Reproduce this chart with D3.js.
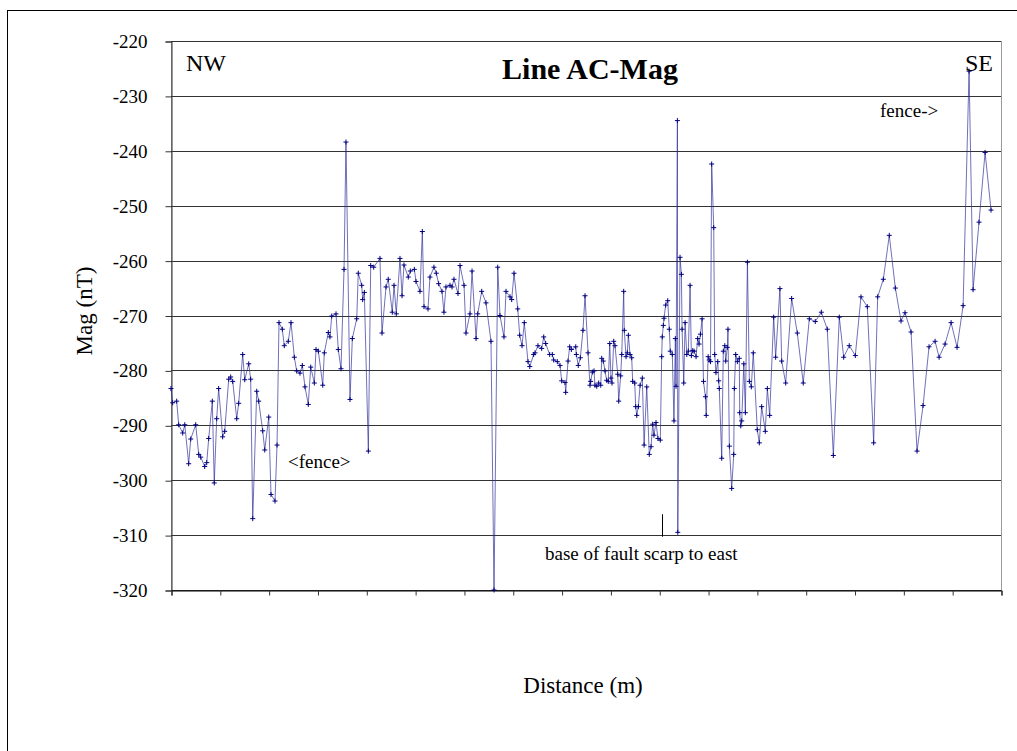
<!DOCTYPE html>
<html>
<head>
<meta charset="utf-8">
<script src="https://cdn.jsdelivr.net/npm/d3@7/dist/d3.min.js"></script>
<style>
  html, body { margin: 0; padding: 0; background: #fff; }
  svg { display: block; }
  text { font-family: "Liberation Serif", "Times New Roman", serif; fill: #000; }
</style>
</head>
<body>
<svg id="chart" width="1017" height="751"></svg>
<script>
// Distance along the line (m)
const distance = [
  0.0, 1.7, 5.8, 7.9, 12.0, 14.1, 18.1, 20.2, 25.3, 28.4, 30.4, 34.5, 36.6, 38.6, 42.3, 44.3,
  46.8, 48.8, 52.9, 55.0, 59.1, 61.1, 63.2, 67.3, 69.3, 73.4, 75.5, 79.6, 81.6, 83.7, 87.8, 89.8,
  93.9, 96.0, 100.1, 102.4, 106.5, 108.6, 110.6, 114.0, 116.0, 120.1, 122.9, 126.3, 128.7, 132.1,
  134.5, 137.2, 140.6, 143.1, 146.8, 148.5, 150.9, 155.4, 157.0, 161.1, 162.8, 164.6, 169.0, 171.3,
  174.1, 177.2, 179.2, 183.3, 185.7, 190.2, 191.8, 195.3, 196.3, 198.0, 202.1, 204.5, 207.6, 214.0,
  216.1, 220.2, 222.5, 226.6, 228.4, 230.7, 234.5, 236.6, 238.6, 243.0, 245.1, 249.2, 250.9, 255.0,
  257.4, 259.1, 263.2, 265.2, 269.3, 271.7, 274.1, 277.5, 279.5, 281.6, 285.7, 287.8, 289.8, 293.9,
  296.0, 300.1, 302.1, 306.2, 308.3, 312.4, 314.1, 318.2, 322.6, 327.7, 330.8, 334.6, 336.9, 341.0,
  343.1, 347.2, 348.9, 351.3, 355.1, 357.1, 359.5, 361.8, 365.6, 367.4, 371.4, 372.8, 375.8, 379.6,
  381.7, 383.7, 387.8, 390.5, 391.9, 395.6, 398.4, 400.1, 403.5, 404.2, 406.6, 408.3, 410.0, 414.5,
  415.1, 417.1, 419.2, 421.9, 424.0, 427.1, 429.1, 429.8, 431.5, 433.2, 434.2, 436.0, 438.0, 440.1,
  441.1, 442.7, 444.5, 446.2, 447.8, 449.3, 450.6, 451.6, 453.4, 454.7, 457.5, 458.5, 460.5, 461.6,
  463.6, 464.2, 466.0, 467.3, 468.4, 470.1, 471.8, 472.8, 474.9, 475.9, 477.0, 478.6, 480.4, 482.7,
  484.5, 487.2, 489.8, 491.6, 493.3, 494.6, 496.7, 498.7, 501.1, 502.5, 503.1, 504.2, 504.9, 506.6,
  508.7, 510.3, 511.3, 513.4, 515.1, 516.5, 517.2, 518.6, 519.0, 521.3, 522.7, 523.4, 525.1, 526.5,
  528.2, 529.8, 531.6, 532.9, 534.3, 535.7, 537.7, 539.4, 540.8, 542.2, 543.9, 545.3, 547.3, 548.1,
  550.1, 551.2, 552.5, 553.7, 555.8, 556.8, 558.1, 559.9, 560.9, 561.5, 564.0, 565.6, 567.1, 568.1,
  569.7, 570.4, 571.8, 574.2, 576.3, 576.9, 578.3, 580.0, 582.0, 582.4, 583.5, 584.5, 586.6, 588.2,
  590.3, 592.3, 594.3, 596.3, 600.4, 602.5, 604.9, 608.6, 610.7, 613.1, 617.2, 619.2, 623.6, 625.4,
  629.5, 635.6, 641.4, 647.5, 653.7, 659.8, 666.0, 672.1, 678.3, 684.4, 688.9, 694.6, 700.8, 706.6,
  713.1, 719.6, 723.7, 729.5, 735.6, 741.8, 747.6, 751.7, 757.9, 764.0, 770.2, 776.3, 782.5, 786.6,
  792.7, 798.9, 805.0, 811.2, 817.3, 821.4, 827.5, 833.7, 839.8
];

// Total field magnetic reading (nT)
const mag = [
  -283.3, -285.9, -285.6, -289.9, -291.4, -289.9, -297.0, -292.5, -289.9, -295.3, -295.8, -297.5, -296.8, -292.4, -285.6, -300.5,
  -288.8, -283.3, -292.1, -291.1, -281.6, -281.2, -282.0, -288.8, -286.0, -277.1, -281.7, -278.8, -281.6, -307.0, -283.8, -285.6,
  -291.0, -294.5, -288.5, -302.6, -303.8, -293.6, -271.3, -272.5, -275.5, -274.7, -271.3, -277.6, -280.1, -280.5,
  -279.1, -283.0, -286.2, -279.4, -282.3, -276.2, -276.5, -282.7, -276.8, -273.1, -273.9, -270.1, -269.7, -276.2,
  -279.7, -261.6, -238.4, -285.3, -274.2, -270.6, -262.3, -264.5, -267.1, -265.8, -294.7, -260.9, -261.2, -259.6,
  -273.2, -264.8, -263.4, -269.4, -264.5, -269.7, -259.6, -266.4, -260.8, -263.0, -261.9, -261.6, -263.8, -265.6,
  -254.7, -268.4, -268.8, -263.0, -261.2, -262.3, -264.2, -265.6, -269.4, -264.8, -264.5, -264.8, -263.4, -266.0,
  -260.9, -264.5, -273.2, -269.7, -261.9, -274.2, -269.7, -265.6, -267.7, -274.7, -320.0, -261.2, -270.0, -273.9,
  -265.6, -266.6, -267.1, -262.3, -268.8, -273.6, -275.5, -271.3, -278.4, -279.3, -277.1, -276.8, -275.5, -276.0,
  -273.9, -275.1, -277.1, -277.1, -278.1, -278.4, -279.1, -281.9, -282.2, -284.0, -278.3, -275.7, -276.2, -275.7,
  -277.1, -279.1, -277.7, -272.7, -266.4, -276.8, -282.7, -282.0, -280.3, -280.1, -282.7, -282.9, -282.3, -282.7,
  -277.8, -278.3, -280.1, -281.8, -282.0, -275.1, -281.4, -282.3, -274.7, -275.5, -280.7, -285.6, -281.0, -277.1,
  -265.6, -272.7, -277.5, -276.8, -273.6, -277.1, -277.7, -282.0, -282.3, -286.6, -288.2, -286.6, -282.7, -281.4,
  -293.6, -283.0, -295.3, -293.9, -289.8, -291.8, -289.5, -292.4, -292.7, -277.5, -273.9, -271.8, -270.5, -268.1,
  -267.3, -272.5, -276.5, -277.1, -289.2, -274.2, -282.9, -234.5, -309.5, -259.4, -262.5, -272.5, -282.3, -271.3,
  -277.1, -276.5, -264.5, -277.3, -276.4, -276.5, -277.5, -274.2, -275.2, -273.4, -270.6, -282.0, -284.8, -288.2,
  -277.5, -278.1, -278.4, -242.4, -254.0, -277.1, -280.4, -278.4, -281.9, -283.3, -296.0, -276.5, -275.5, -278.3,
  -275.8, -272.5, -293.8, -301.5, -295.3, -283.3, -277.1, -278.4, -277.8, -287.7, -290.1, -289.2, -278.8, -287.7,
  -260.3, -282.0, -283.0, -276.8, -290.8, -293.2, -286.6, -291.1, -283.3, -288.2, -270.3, -277.6, -265.1, -278.3,
  -282.3, -266.9, -273.2, -282.3, -270.6, -271.1, -269.4, -272.5, -295.5, -270.3, -277.6, -275.5, -277.3, -266.6,
  -268.4, -293.2, -266.6, -263.4, -255.4, -265.0, -271.0, -269.5, -273.0, -294.7, -286.4, -275.7, -274.7, -277.6,
  -275.2, -271.3, -275.8, -268.2, -225.5, -265.3, -253.0, -240.3, -250.8
];

// Axis settings
const yTicks = [-220, -230, -240, -250, -260, -270, -280, -290, -300, -310, -320];
const xTicks = d3.range(0, 851, 50);

// Where the base of the fault scarp sits on the profile
const faultBase = { distance: 502.8, top: -306.2, bottom: -310.3 };

const points = distance.map((d, i) => ({ d, v: mag[i] }));

const SERIF = '"Liberation Serif", "Times New Roman", serif';
const svg = d3.select("#chart");
const plot = { left: 171, right: 1001, top: 41, bottom: 590 };

const x = d3.scaleLinear().domain([0, 850]).range([plot.left, plot.right]);
const y = d3.scaleLinear().domain([-320, -220]).range([plot.bottom, plot.top]);

// Chart frame
svg.append("rect")
  .attr("x", 7.5).attr("y", 10.5)
  .attr("width", 1030).attr("height", 760)
  .attr("fill", "#fff").attr("stroke", "#000").attr("stroke-width", 1);

// Plot area border (grey)
svg.append("rect")
  .attr("x", plot.left + 0.5).attr("y", plot.top + 0.5)
  .attr("width", plot.right - plot.left).attr("height", plot.bottom - plot.top)
  .attr("fill", "none").attr("stroke", "#9a9a9a").attr("stroke-width", 1);

// Horizontal gridlines
svg.append("g")
  .selectAll("line")
  .data(yTicks)
  .join("line")
  .attr("x1", plot.left).attr("x2", plot.right)
  .attr("y1", d => Math.round(y(d)) + 0.5).attr("y2", d => Math.round(y(d)) + 0.5)
  .attr("stroke", "#333").attr("stroke-width", 1);

// Y axis
const yAxis = svg.append("g")
  .attr("transform", `translate(${plot.left + 0.5},0.5)`)
  .call(d3.axisLeft(y).tickValues(yTicks).tickSize(6).tickPadding(18).tickFormat(d => String(d)));
yAxis.select(".domain").attr("stroke", "#333");
yAxis.selectAll(".tick line").attr("stroke", "#333");
yAxis.selectAll(".tick text")
  .style("font-family", SERIF)
  .style("font-size", "19px").attr("fill", "#000");

// X axis (ticks only, no labels)
const xAxis = svg.append("g")
  .attr("transform", `translate(0.5,${plot.bottom + 0.5})`)
  .call(d3.axisBottom(x).tickValues(xTicks).tickSize(5).tickFormat(""));
xAxis.select(".domain").attr("stroke", "#000");
xAxis.selectAll(".tick line").attr("stroke", "#333");

// Data line
const line = d3.line().x(p => x(p.d)).y(p => y(p.v));
svg.append("path")
  .datum(points)
  .attr("d", line)
  .attr("fill", "none")
  .attr("stroke", "#2a2a9a")
  .attr("stroke-opacity", 0.75)
  .attr("stroke-width", 0.9);

// Plus markers
const m = 2.5;
svg.append("g")
  .selectAll("path")
  .data(points)
  .join("path")
  .attr("d", p => {
    const px = x(p.d), py = y(p.v);
    return `M${px - m},${py}H${px + m}M${px},${py - m}V${py + m}`;
  })
  .attr("stroke", "#000080")
  .attr("stroke-width", 1);

// Titles and annotations
function label(tx, ty, str, size, anchor, weight) {
  return svg.append("text")
    .attr("x", tx).attr("y", ty)
    .attr("text-anchor", anchor || "start")
    .style("font-family", SERIF)
    .style("font-size", size + "px")
    .style("font-weight", weight || "normal")
    .text(str);
}

label(590, 79, "Line AC-Mag", 30, "middle", "bold");
label(186, 71, "NW", 24);
label(993, 71, "SE", 24, "end");
label(880, 117, "fence->", 19);
label(288, 468, "<fence>", 19);
label(545, 560, "base of fault scarp to east", 19);

// Tick mark for the base of the fault scarp
svg.append("line")
  .attr("x1", Math.round(x(faultBase.distance)) + 0.5).attr("x2", Math.round(x(faultBase.distance)) + 0.5)
  .attr("y1", y(faultBase.top)).attr("y2", y(faultBase.bottom))
  .attr("stroke", "#000").attr("stroke-width", 1);

svg.append("text")
  .attr("transform", "translate(92,311) rotate(-90)")
  .attr("text-anchor", "middle")
  .style("font-family", SERIF)
  .style("font-size", "23px")
  .text("Mag (nT)");

label(583, 693, "Distance (m)", 23, "middle");
</script>
</body>
</html>
